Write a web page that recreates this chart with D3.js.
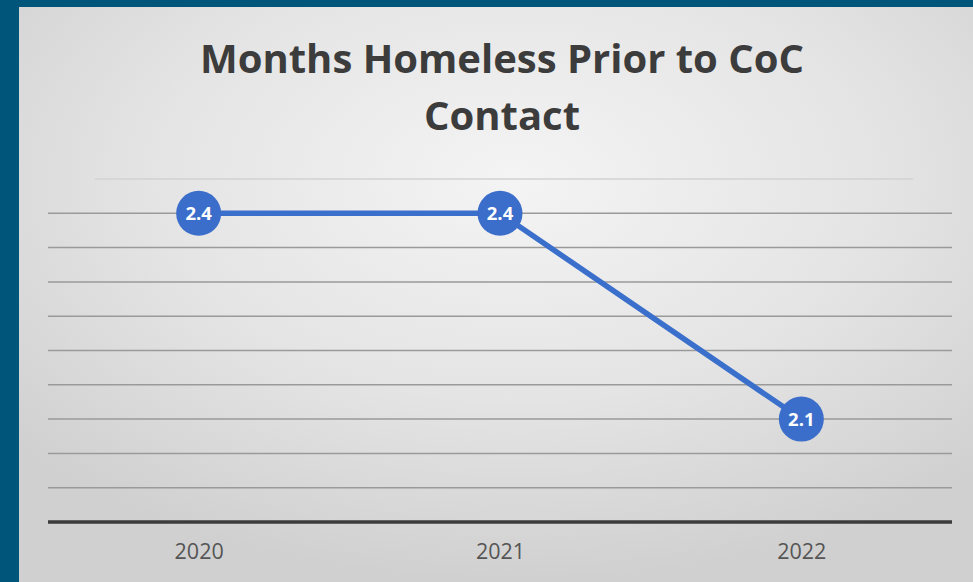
<!DOCTYPE html>
<html><head><meta charset="utf-8">
<script src="https://cdn.jsdelivr.net/npm/d3@7"></script>
<style>html,body{margin:0;padding:0;background:#00557b;overflow:hidden}</style>
</head><body>
<svg id="c" width="973" height="582"></svg>
<script>
const titleLines = ["Months Homeless Prior to CoC", "Contact"];
const years = ["2020", "2021", "2022"];
const values = [2.4, 2.4, 2.1];
const yTicks = [1.95, 2.0, 2.05, 2.1, 2.15, 2.2, 2.25, 2.3, 2.35, 2.4, 2.45];

const svg = d3.select("#c");
const defs = svg.append("defs");
const g = defs.append("radialGradient").attr("id","bg").attr("cx","52%").attr("cy","30%").attr("r","70%");
g.append("stop").attr("offset","0%").attr("stop-color","#f4f4f4");
g.append("stop").attr("offset","55%").attr("stop-color","#e4e4e4");
g.append("stop").attr("offset","100%").attr("stop-color","#d0d0d0");

svg.append("rect").attr("width",973).attr("height",582).attr("fill","#00557b");
svg.append("rect").attr("x",19).attr("y",7).attr("width",954).attr("height",575).attr("fill","url(#bg)");

const x = d3.scalePoint().domain(years).range([48, 952]).padding(0.5);
const y = d3.scaleLinear().domain([1.95, 2.45]).range([522, 179]);

// gridlines
svg.append("g").selectAll("line").data(yTicks.slice(1)).join("line")
  .attr("x1", (d,i)=> i===yTicks.length-2 ? 95 : 48)
  .attr("x2", (d,i)=> i===yTicks.length-2 ? 913 : 952)
  .attr("y1", d=>y(d)).attr("y2", d=>y(d))
  .attr("stroke", (d,i)=> i===yTicks.length-2 ? "#d2d2d2" : "#9a9a9a")
  .attr("stroke-width", 1.5);

// axis
const ax = svg.append("g").attr("transform",`translate(0,${y(1.95)})`)
  .call(d3.axisBottom(x).tickSize(0).tickPadding(22));
ax.select(".domain").attr("stroke","#3c3c3c").attr("stroke-width",3.5).attr("d","M48,0H952");
ax.selectAll("text").attr("font-family","Open Sans, sans-serif").attr("font-size",21.5).attr("fill","#555555");

// line
const pts = years.map((yr,i)=>({yr, v:values[i]}));
svg.append("path").datum(pts)
  .attr("d", d3.line().x(d=>x(d.yr)).y(d=>y(d.v)))
  .attr("fill","none").attr("stroke","#3b6fcc").attr("stroke-width",5.5);

svg.append("g").selectAll("circle").data(pts).join("circle")
  .attr("cx", d=>x(d.yr)).attr("cy", d=>y(d.v)).attr("r", 22.5)
  .attr("fill","#3b6dcb");
svg.append("g").selectAll("text").data(pts).join("text")
  .attr("x", d=>x(d.yr)).attr("y", d=>y(d.v)).attr("dy","0.36em")
  .attr("text-anchor","middle").attr("font-family","Open Sans, sans-serif")
  .attr("font-weight","bold").attr("font-size",18.5).attr("fill","#ffffff")
  .text(d=>d.v.toFixed(1));

// title
svg.append("g").selectAll("text").data(titleLines).join("text")
  .attr("x", 502).attr("y", (d,i)=>73 + i*57)
  .attr("text-anchor","middle").attr("font-family","Open Sans, sans-serif")
  .attr("font-weight","bold").attr("font-size",40).attr("fill","#3c3c3c")
  .text(d=>d);
</script>
</body></html>
